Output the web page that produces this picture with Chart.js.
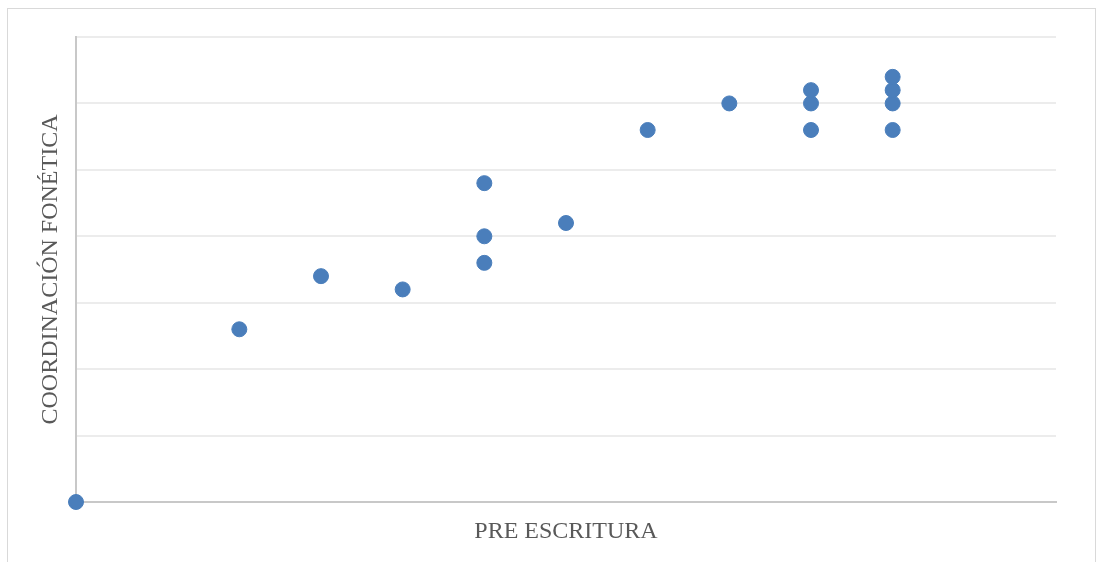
<!DOCTYPE html>
<html>
<head>
<meta charset="utf-8">
<script src="https://cdn.jsdelivr.net/npm/chart.js@4/dist/chart.umd.min.js"></script>
<style>
  html, body { margin: 0; padding: 0; background: #fff; }
  #frame {
    position: absolute; left: 7px; top: 8px;
    width: 1087px; height: 560px;
    border: 1px solid #d9d9d9; border-bottom: none;
  }
  #wrap { position: absolute; left: 0; top: 0; width: 1100px; height: 562px; }
</style>
</head>
<body>
<div id="frame"></div>
<div id="wrap"><canvas id="scatter-chart"></canvas></div>
<script>
// PRE ESCRITURA (x) vs COORDINACIÓN FONÉTICA (y)
let preEscritura = [0, 2, 3, 4, 5, 5, 5, 6, 7, 8, 9, 9, 9, 10, 10, 10, 10];
let coordinacion = [0, 2.6, 3.4, 3.2, 3.6, 4.0, 4.8, 4.2, 5.6, 6.0, 5.6, 6.0, 6.2, 5.6, 6.0, 6.2, 6.4];

let points = preEscritura.map((x, i) => ({ x: x, y: coordinacion[i] }));

let titleFont = { family: '"Liberation Serif", "Times New Roman", serif', size: 24 };

let scatter_chart = new Chart(document.getElementById('scatter-chart'), {
  type: 'scatter',
  data: {
    datasets: [{
      label: 'COORDINACIÓN FONÉTICA',
      data: points,
      backgroundColor: '#4a7ebb',
      borderColor: '#4a7ebb',
      pointRadius: 7.5,
      pointHoverRadius: 7.5,
      clip: false
    }]
  },
  options: {
    responsive: true,
    maintainAspectRatio: false,
    animation: false,
    layout: { padding: { top: 37, right: 44, left: 0, bottom: 0 } },
    plugins: { legend: { display: false }, tooltip: { enabled: false } },
    scales: {
      x: {
        type: 'linear',
        min: 0, max: 12,
        ticks: { display: false, stepSize: 1 },
        grid: { display: false, drawTicks: false },
        border: { color: '#c8c8c8', width: 2 },
        title: { display: true, text: 'PRE ESCRITURA', color: '#595959', font: titleFont, padding: { top: 4, bottom: 16 } },
        afterFit: (s) => { s.height = 60; }
      },
      y: {
        min: 0, max: 7,
        ticks: { display: false, stepSize: 1 },
        grid: { color: '#ececec', lineWidth: 2, drawTicks: false },
        border: { color: '#c8c8c8', width: 2 },
        title: { display: true, text: 'COORDINACIÓN FONÉTICA', color: '#595959', font: titleFont, padding: { top: 36, bottom: 0 } },
        afterFit: (s) => { s.width = 76; }
      }
    }
  }
});
</script>
</body>
</html>
